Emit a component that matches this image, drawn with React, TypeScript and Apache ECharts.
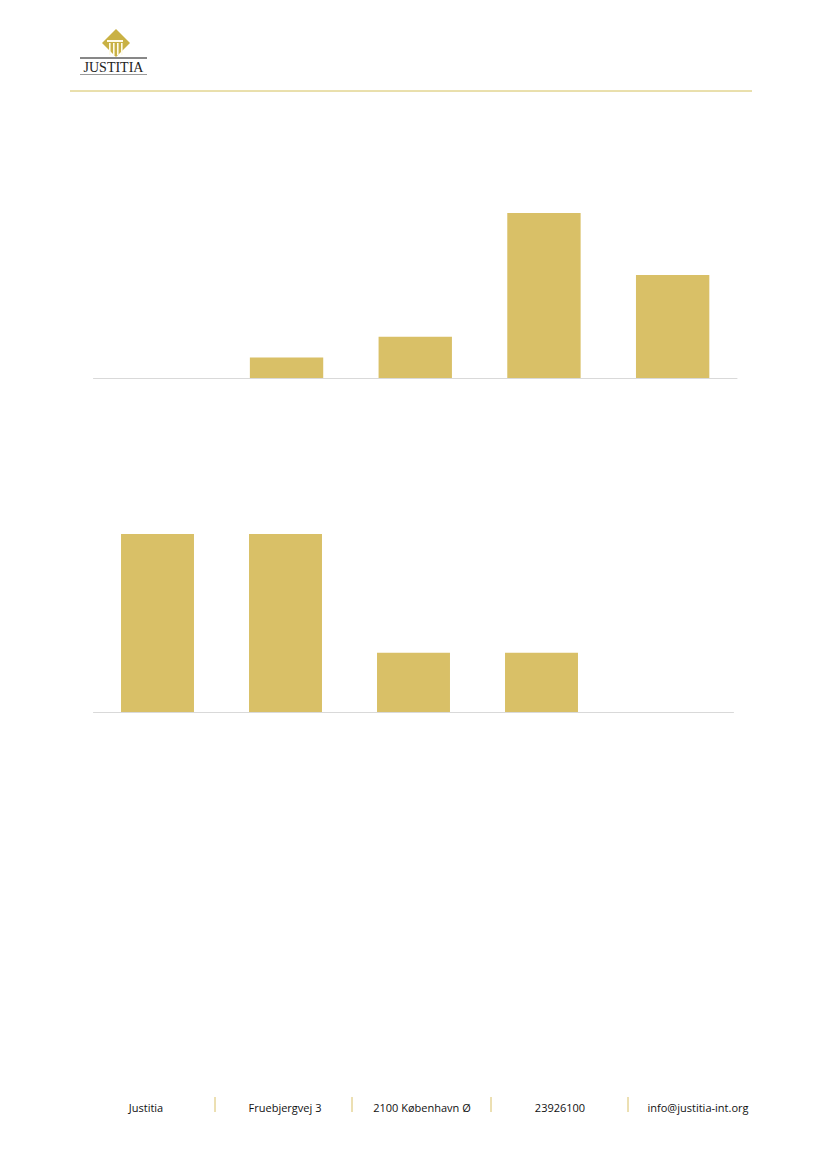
import React, { useEffect, useRef } from "react";
import * as echarts from "echarts";

const categories1 = ["1", "2", "3", "4", "5"];
const values1 = [0, 1, 2, 8, 5];
const categories2 = ["1", "2", "3", "4", "5"];
const values2 = [3, 3, 1, 1, 0];
const footerItems = ["Justitia", "Fruebjergvej 3", "2100 København Ø", "23926100", "info@justitia-int.org"];
const footerCenters = [146, 285, 422, 560, 698];
const footerSeps = [215, 352, 491, 628];

const GOLD = "#d9c067";
const AXIS = "#d9d9d9";

export default function App() {
  const ref = useRef<HTMLDivElement>(null);
  useEffect(() => {
    if (!ref.current) return;
    const chart = echarts.init(ref.current, null, { renderer: "svg" });
    const graphics: any[] = [];
    // header line
    graphics.push({ type: "line", shape: { x1: 70, y1: 91, x2: 752, y2: 91 }, style: { stroke: "#d4c05a", lineWidth: 1 } });
    // logo diamond
    graphics.push({
      type: "polygon",
      shape: { points: [[116, 29], [130, 43], [116, 57], [102, 43]] },
      style: { fill: "#c9b144" },
    });
    graphics.push({ type: "rect", shape: { x: 107, y: 40, width: 16, height: 2 }, style: { fill: "#fffbe8" } });
    [109, 113, 117, 121].forEach((x) => {
      graphics.push({ type: "rect", shape: { x, y: 43, width: 1.6, height: 12 }, style: { fill: "#fffbe8" } });
    });
    graphics.push({ type: "line", shape: { x1: 80, y1: 58, x2: 147, y2: 58 }, style: { stroke: "#111", lineWidth: 1 } });
    graphics.push({
      type: "text",
      x: 113.5,
      y: 67,
      style: { text: "JUSTITIA", font: "14px 'Liberation Serif', serif", fill: "#222", align: "center", verticalAlign: "middle" },
    });
    graphics.push({ type: "line", shape: { x1: 80, y1: 74.5, x2: 147, y2: 74.5 }, style: { stroke: "#999", lineWidth: 1 } });
    // footer
    footerItems.forEach((t, i) => {
      graphics.push({
        type: "text",
        x: footerCenters[i],
        y: 1107,
        style: { text: t, font: "11px 'Open Sans', sans-serif", fill: "#111", align: "center", verticalAlign: "middle" },
      });
    });
    footerSeps.forEach((x) => {
      graphics.push({ type: "line", shape: { x1: x, y1: 1097, x2: x, y2: 1112 }, style: { stroke: GOLD, lineWidth: 1 } });
    });

    const mkX = (data: string[], gi: number) => ({
      type: "category",
      data,
      gridIndex: gi,
      axisLine: { lineStyle: { color: AXIS, width: 1 } },
      axisTick: { show: false },
      axisLabel: { show: false },
    });
    const mkY = (gi: number, max: number) => ({
      type: "value",
      gridIndex: gi,
      min: 0,
      max,
      splitLine: { show: false },
      axisLabel: { show: false },
      axisLine: { show: false },
      axisTick: { show: false },
    });

    chart.setOption({
      animation: false,
      grid: [
        { left: 93.5, width: 643.5, top: 213, height: 165 },
        { left: 93.5, width: 640, top: 534, height: 178 },
      ],
      xAxis: [mkX(categories1, 0), mkX(categories2, 1)],
      yAxis: [mkY(0, 8), mkY(1, 3)],
      series: [
        {
          type: "bar",
          xAxisIndex: 0,
          yAxisIndex: 0,
          data: values1,
          barWidth: "57%",
          itemStyle: { color: GOLD, borderWidth: 0 },
        },
        {
          type: "bar",
          xAxisIndex: 1,
          yAxisIndex: 1,
          data: values2,
          barWidth: "57%",
          itemStyle: { color: GOLD, borderWidth: 0 },
        },
      ],
      graphic: graphics,
    });
    return () => chart.dispose();
  }, []);
  return (
    <div
      ref={ref}
      style={{ position: "absolute", left: 0, top: 0, width: 826, height: 1169, background: "#fff" }}
    />
  );
}
